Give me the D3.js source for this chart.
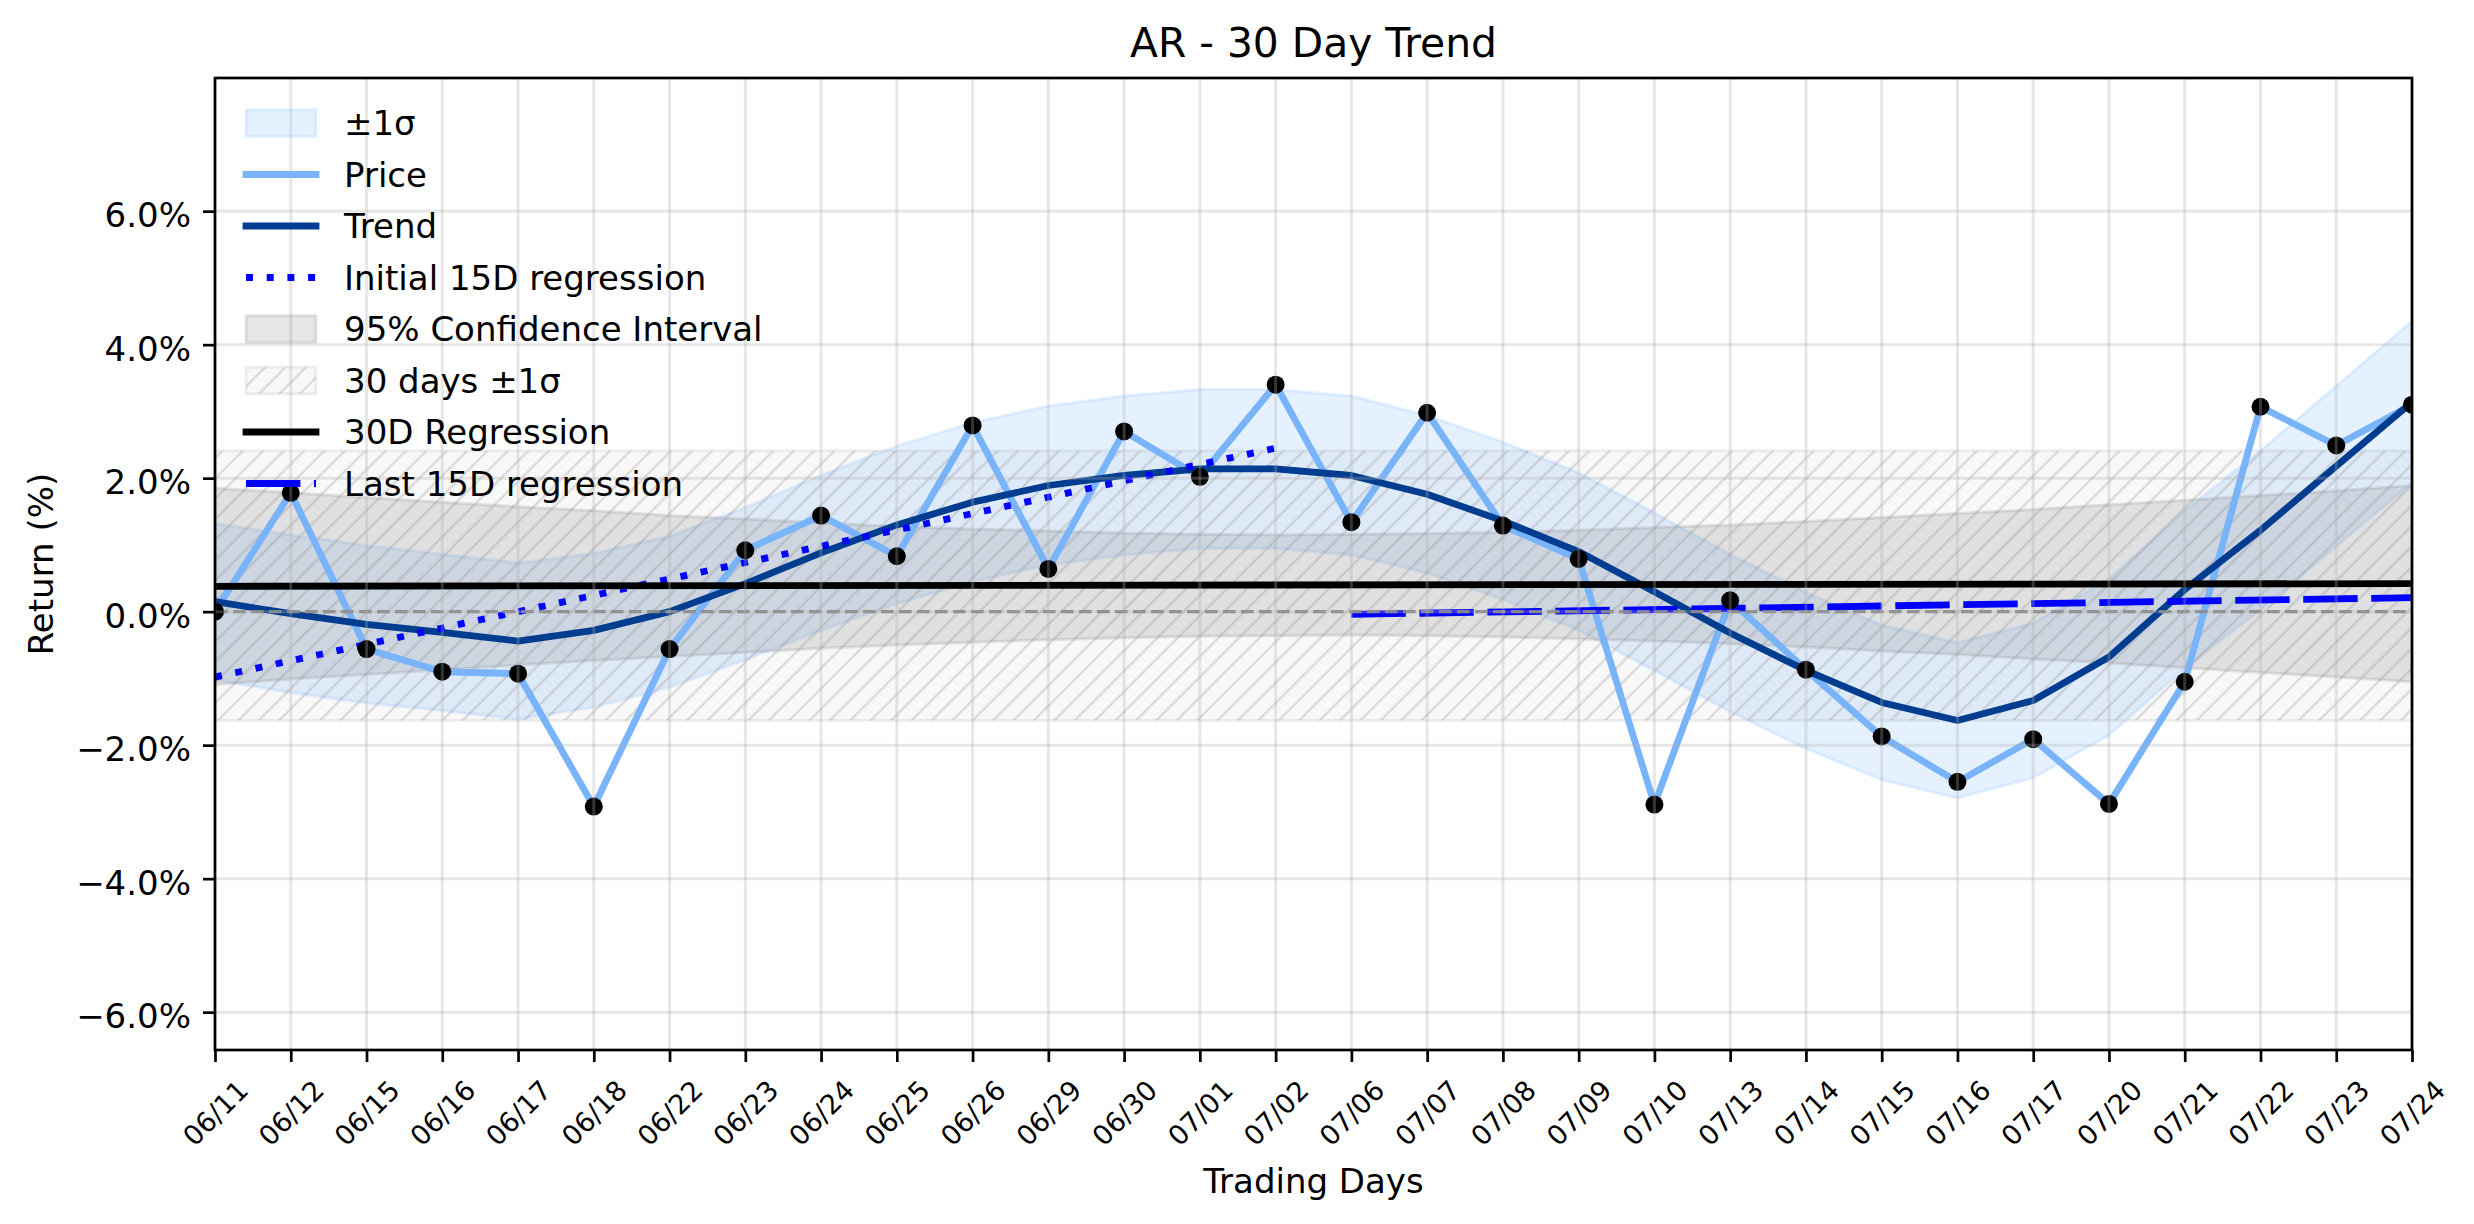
<!DOCTYPE html>
<html><head><meta charset="utf-8">
<script src="https://cdn.jsdelivr.net/npm/d3@7"></script>
<style>
html,body{margin:0;padding:0;background:#fff;}
svg{display:block;font-family:"DejaVu Sans",sans-serif;}
</style>
</head><body>
<svg id="chart" width="2474" height="1224"></svg>
<script>
// ---------------- data ----------------
const dates = ["06/11","06/12","06/15","06/16","06/17","06/18","06/22","06/23","06/24","06/25",
  "06/26","06/29","06/30","07/01","07/02","07/06","07/07","07/08","07/09","07/10",
  "07/13","07/14","07/15","07/16","07/17","07/20","07/21","07/22","07/23","07/24"];
const price = [0.00,1.78,-0.56,-0.90,-0.93,-2.92,-0.56,0.92,1.44,0.83,
  2.79,0.64,2.70,2.02,3.40,1.34,2.98,1.29,0.79,-2.89,
  0.17,-0.87,-1.87,-2.55,-1.91,-2.88,-1.05,3.07,2.49,3.10];
const trend = [0.15,-0.03,-0.19,-0.31,-0.44,-0.28,0.00,0.42,0.88,1.30,
  1.64,1.89,2.04,2.14,2.14,2.04,1.76,1.36,0.90,0.30,
  -0.32,-0.88,-1.36,-1.63,-1.33,-0.68,0.33,1.22,2.18,3.14];
const sigma = [1.17,1.18,1.18,1.17,1.17,1.15,1.13,1.14,1.16,1.18,
  1.19,1.19,1.19,1.19,1.19,1.19,1.18,1.18,1.18,1.18,
  1.18,1.17,1.16,1.16,1.16,1.17,1.18,1.19,1.20,1.21];
const ciUpper = [1.85,1.78,1.71,1.64,1.57,1.51,1.44,1.39,1.33,1.28,
  1.24,1.21,1.18,1.16,1.15,1.16,1.17,1.19,1.22,1.26,
  1.30,1.35,1.41,1.47,1.53,1.60,1.67,1.74,1.81,1.89];
const ciLower = [-1.09,-1.01,-0.94,-0.87,-0.80,-0.73,-0.67,-0.61,-0.55,-0.50,
  -0.46,-0.42,-0.39,-0.37,-0.36,-0.35,-0.36,-0.38,-0.41,-0.44,
  -0.48,-0.53,-0.59,-0.64,-0.71,-0.77,-0.84,-0.91,-0.98,-1.05];
const regX = [0, 29], regY = [0.38, 0.42];
const initX = [0, 14], initY = [-0.98, 2.45];
const lastX = [15, 29], lastY = [-0.04, 0.21];
const band30X = [0, 29];
const band30 = [-1.63, 2.41];
const yTicks = [-6, -4, -2, 0, 2, 4, 6];
const yDomain = [-6.567, 7.995];
const legendLabels = ["±1σ","Price","Trend","Initial 15D regression","95% Confidence Interval",
  "30 days ±1σ","30D Regression","Last 15D regression"];

// ---------------- layout ----------------
const m = {left:215, right:2412, top:78, bottom:1050};
const svg = d3.select("#chart");
const x = d3.scaleLinear().domain([0, dates.length-1]).range([m.left, m.right]);
const y = d3.scaleLinear().domain(yDomain).range([m.bottom, m.top]);
const idx = d3.range(dates.length);

const defs = svg.append("defs");
defs.append("clipPath").attr("id","plotclip").append("rect")
  .attr("x",m.left).attr("y",m.top).attr("width",m.right-m.left).attr("height",m.bottom-m.top);
const hs = 20.4;
const pat = defs.append("pattern").attr("id","hatch").attr("patternUnits","userSpaceOnUse")
  .attr("width",hs).attr("height",hs);
pat.append("path").attr("d",`M${-hs/4},${hs/4}L${hs/4},${-hs/4}M0,${hs}L${hs},0M${hs*0.75},${hs*1.25}L${hs*1.25},${hs*0.75}`)
  .attr("stroke","#808080").attr("stroke-opacity",0.25).attr("stroke-width",2.4);

const plot = svg.append("g").attr("clip-path","url(#plotclip)");

const bandStyle = {
  sigma: {fill:"#99c9ff", op:0.25},
  ci: {fill:"#808080", op:0.2},
  h30: {fill:"#808080", op:0.06}
};

// ±1σ band
const sigArea = d3.area().x(i=>x(i)).y0(i=>y(trend[i]-sigma[i])).y1(i=>y(trend[i]+sigma[i]));
plot.append("path").attr("d",sigArea(idx)).attr("fill",bandStyle.sigma.fill).attr("fill-opacity",bandStyle.sigma.op)
  .attr("stroke",bandStyle.sigma.fill).attr("stroke-opacity",bandStyle.sigma.op).attr("stroke-width",3);
// 95% CI band
const ciArea = d3.area().x(i=>x(i)).y0(i=>y(ciLower[i])).y1(i=>y(ciUpper[i]));
plot.append("path").attr("d",ciArea(idx)).attr("fill",bandStyle.ci.fill).attr("fill-opacity",bandStyle.ci.op)
  .attr("stroke",bandStyle.ci.fill).attr("stroke-opacity",bandStyle.ci.op).attr("stroke-width",3);
// 30 day ±1σ hatched band
const hArea = d3.area().x(d=>x(d)).y0(()=>y(band30[0])).y1(()=>y(band30[1]));
plot.append("path").attr("d",hArea(band30X)).attr("fill",bandStyle.h30.fill).attr("fill-opacity",bandStyle.h30.op)
  .attr("stroke",bandStyle.h30.fill).attr("stroke-opacity",0.12).attr("stroke-width",3);
plot.append("path").attr("d",hArea(band30X)).attr("fill","url(#hatch)");

// grid
const grid = svg.append("g");
grid.selectAll(".gy").data(yTicks).join("line")
  .attr("x1",m.left).attr("x2",m.right).attr("y1",d=>y(d)).attr("y2",d=>y(d))
  .attr("stroke","#b0b0b0").attr("stroke-opacity",0.3).attr("stroke-width",3);
grid.selectAll(".gx").data(idx).join("line")
  .attr("x1",d=>x(d)).attr("x2",d=>x(d)).attr("y1",m.top).attr("y2",m.bottom)
  .attr("stroke","#b0b0b0").attr("stroke-opacity",0.3).attr("stroke-width",3);

const line = d3.line().x(d=>x(d[0])).y(d=>y(d[1]));
// Price
plot.append("path").attr("d",line(idx.map(i=>[i,price[i]]))).attr("fill","none")
  .attr("stroke","#79b4fb").attr("stroke-width",6.8).attr("stroke-linejoin","round");
// Trend
plot.append("path").attr("d",line(idx.map(i=>[i,trend[i]]))).attr("fill","none")
  .attr("stroke","#003c8f").attr("stroke-width",6.8).attr("stroke-linejoin","round");
// Initial 15D regression
plot.append("path").attr("d",line(initX.map((d,k)=>[d,initY[k]]))).attr("fill","none")
  .attr("stroke","#0000ff").attr("stroke-width",6.8).attr("stroke-dasharray","7,13.7");
// 30D regression
plot.append("path").attr("d",line(regX.map((d,k)=>[d,regY[k]]))).attr("fill","none")
  .attr("stroke","#000").attr("stroke-width",6.8);
// Last 15D regression
plot.append("path").attr("d",line(lastX.map((d,k)=>[d,lastY[k]]))).attr("fill","none")
  .attr("stroke","#0000ff").attr("stroke-width",6.8).attr("stroke-dasharray","54.4,13.6");
// zero line
plot.append("line").attr("x1",m.left).attr("x2",m.right).attr("y1",y(0)).attr("y2",y(0))
  .attr("stroke","#808080").attr("stroke-opacity",0.9).attr("stroke-width",3.4).attr("stroke-dasharray","12.6,5.4");

// spines
svg.append("rect").attr("x",m.left).attr("y",m.top).attr("width",m.right-m.left).attr("height",m.bottom-m.top)
  .attr("fill","none").attr("stroke","#000").attr("stroke-width",2.7);

// dots
plot.selectAll(".dot").data(idx).join("circle")
  .attr("cx",i=>x(i)).attr("cy",i=>y(price[i])).attr("r",9).attr("fill","#000");

// axes
const yAxis = svg.append("g").attr("transform",`translate(${m.left},0)`)
  .call(d3.axisLeft(y).tickValues(yTicks).tickSize(12).tickPadding(12)
    .tickFormat(d=>d3.format(".1f")(d)+"%"));
yAxis.select(".domain").remove();
yAxis.selectAll(".tick line").attr("stroke","#000").attr("stroke-width",2.7);
yAxis.selectAll(".tick text").attr("font-size",34).attr("font-family","DejaVu Sans").attr("fill","#000").attr("dy","0.46em");

const xAxis = svg.append("g").attr("transform",`translate(0,${m.bottom})`)
  .call(d3.axisBottom(x).tickValues(idx).tickSize(12).tickFormat(i=>dates[i]));
xAxis.select(".domain").remove();
xAxis.selectAll(".tick line").attr("stroke","#000").attr("stroke-width",2.7);
xAxis.selectAll(".tick text")
  .attr("font-size",27.2).attr("font-family","DejaVu Sans").attr("fill","#000")
  .attr("text-anchor","middle").attr("dy","0.35em").attr("y",0)
  .attr("transform","translate(0,63) rotate(-45)");

// title & labels
svg.append("text").attr("x",(m.left+m.right)/2).attr("y",57).attr("text-anchor","middle")
  .attr("font-size",40.8).attr("fill","#000").text("AR - 30 Day Trend");
svg.append("text").attr("x",(m.left+m.right)/2).attr("y",1193).attr("text-anchor","middle")
  .attr("font-size",34).attr("fill","#000").text("Trading Days");
svg.append("text").attr("transform",`translate(53,${(m.top+m.bottom)/2}) rotate(-90)`).attr("text-anchor","middle")
  .attr("font-size",34).attr("fill","#000").text("Return (%)");

// legend
const lg = svg.append("g");
const rowY = k => 123 + 51.5*k;
const hx0 = 246, hx1 = 316;
legendLabels.forEach((lab,k)=>{
  const cy = rowY(k);
  if (k===0 || k===4 || k===5) {
    const st = k===0 ? bandStyle.sigma : (k===4 ? bandStyle.ci : bandStyle.h30);
    lg.append("rect").attr("x",hx0).attr("y",cy-13.3).attr("width",hx1-hx0).attr("height",26.7)
      .attr("fill",st.fill).attr("fill-opacity",st.op).attr("stroke",st.fill)
      .attr("stroke-opacity", k===5 ? 0.12 : st.op).attr("stroke-width",3);
    if (k===5) lg.append("rect").attr("x",hx0).attr("y",cy-13.3).attr("width",hx1-hx0).attr("height",26.7)
      .attr("fill","url(#hatch)");
  } else {
    const l = lg.append("line").attr("x1",hx0).attr("x2",hx1).attr("y1",cy).attr("y2",cy).attr("stroke-width",6.8);
    if (k===1) l.attr("stroke","#79b4fb").attr("stroke-linecap","square");
    if (k===2) l.attr("stroke","#003c8f").attr("stroke-linecap","square");
    if (k===3) l.attr("stroke","#0000ff").attr("stroke-dasharray","7,13.7");
    if (k===6) l.attr("stroke","#000").attr("stroke-linecap","square");
    if (k===7) l.attr("stroke","#0000ff").attr("stroke-dasharray","54.4,13.6");
  }
  lg.append("text").attr("x",344).attr("y",cy+12).attr("font-size",34).attr("fill","#000").text(lab);
});
</script>
</body></html>
